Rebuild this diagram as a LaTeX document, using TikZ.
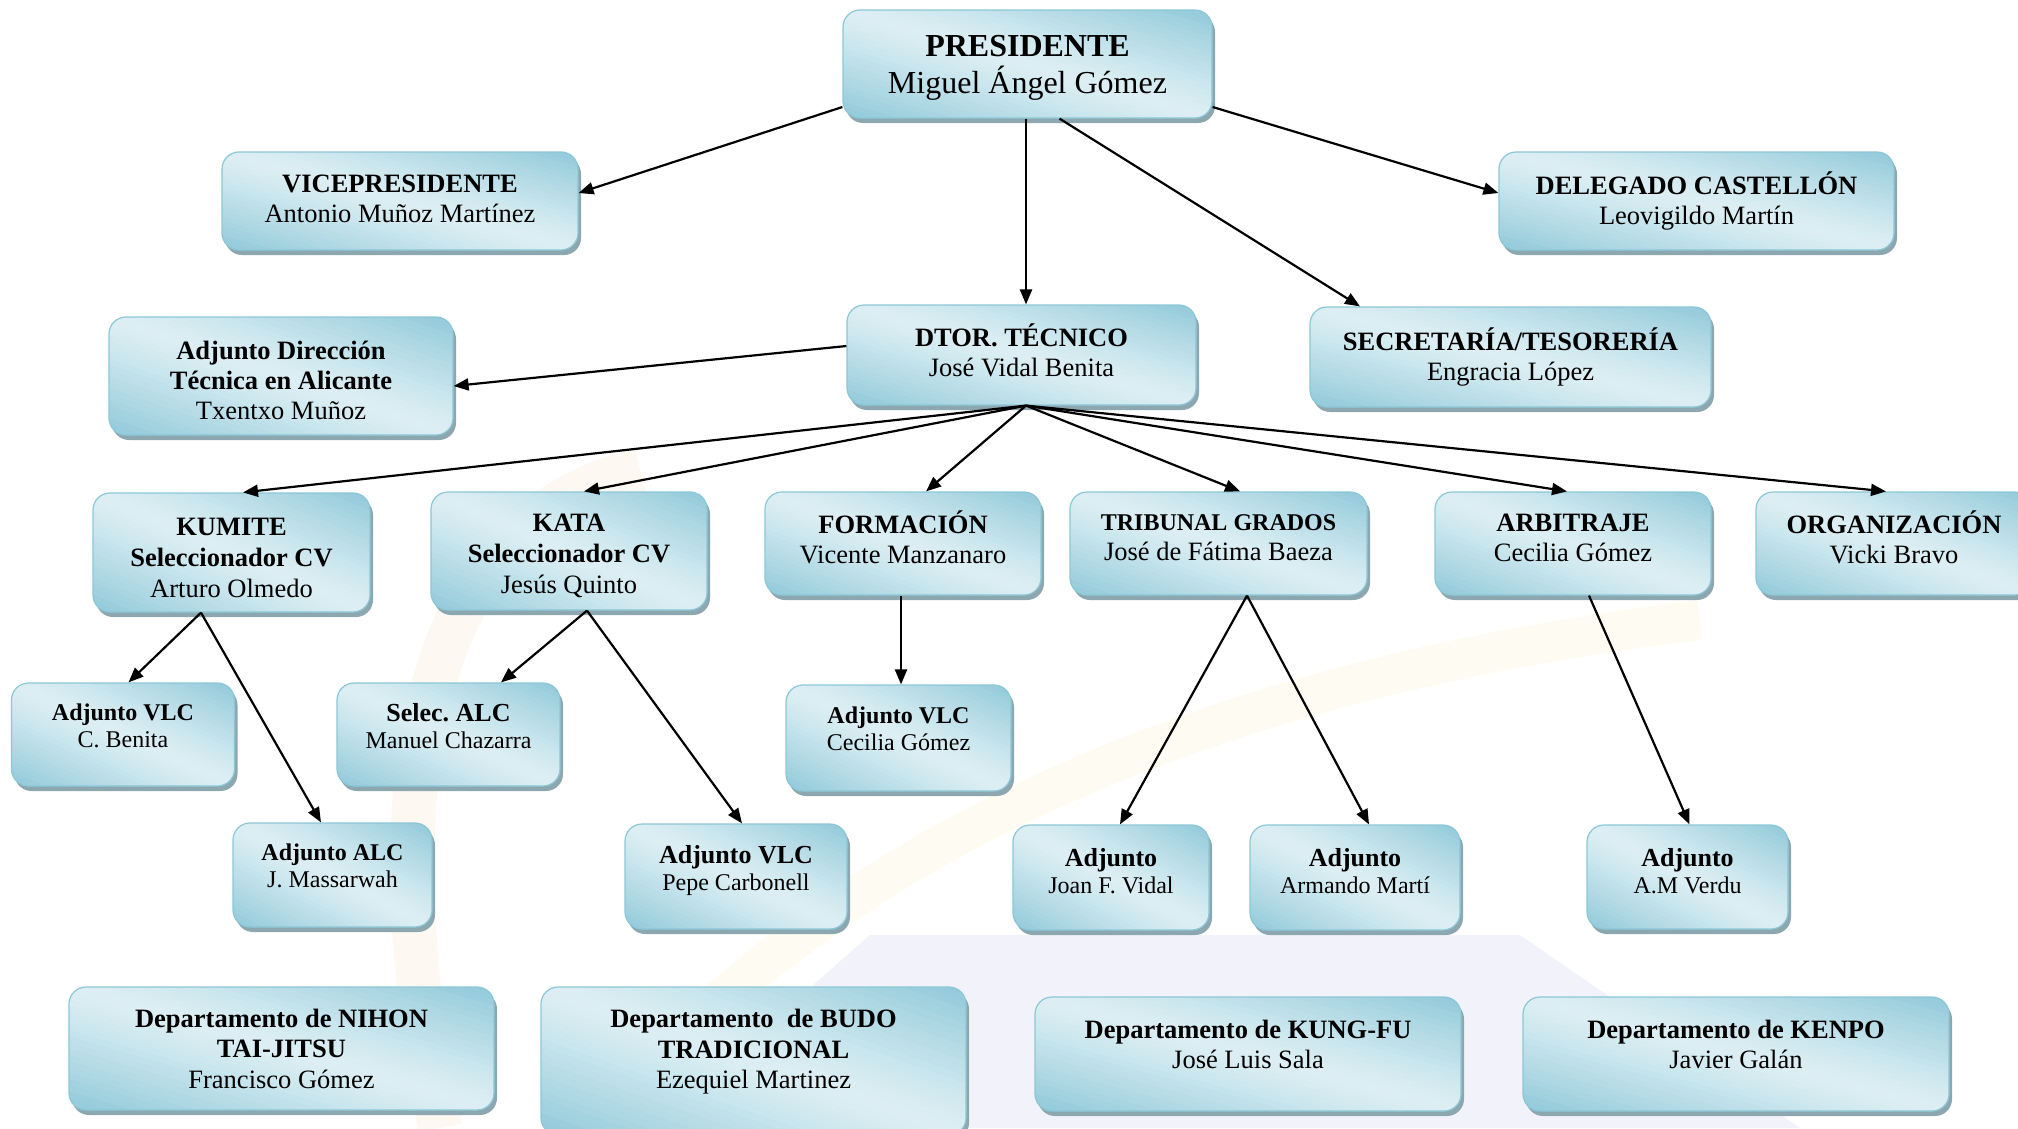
\documentclass[tikz,border=0pt]{standalone}
\usepackage{fontspec}
\setmainfont{Liberation Serif}
\usetikzlibrary{arrows.meta,shadows,calc}
\definecolor{boxlight}{HTML}{DDEFF4}
\definecolor{boxdark}{HTML}{90C9D9}
\definecolor{boxborder}{HTML}{8CC7D6}
\definecolor{boxshadow}{HTML}{8CA7B0}
\definecolor{wmorange}{HTML}{FEF8F3}
\definecolor{wmyellow}{HTML}{FEFCF2}
\definecolor{wmblue}{HTML}{F2F3FA}
\newcommand{\fsz}[2]{\fontsize{#1}{#2}\selectfont}
\newcommand{\tp}[1]{\rule{0pt}{#1pt}}
\newcommand{\bt}[1]{\rule[-#1pt]{0pt}{#1pt}}
\tikzset{
  orgbox/.style={draw=boxborder, line width=1.2pt, rounded corners=17pt,
    drop shadow={shadow xshift=3pt, shadow yshift=-5pt, fill=boxshadow, opacity=1},
    align=center, inner sep=0pt, text=black},
  bx/.style 2 args={minimum width=#1pt, minimum height=#2pt,
    path picture={
      \foreach \k in {0,...,39}{
        \pgfmathsetmacro\sa{-2+\k*0.1}
        \pgfmathsetmacro\sb{\sa+0.13}
        \pgfmathsetmacro\tt{abs(\sa+0.05)/2}
        \pgfmathtruncatemacro\lt{100*(1-\tt^1.2)}
        \fill[boxlight!\lt!boxdark]
          ($(path picture bounding box.center)+({(\sa+2.1)*#1/4},{(\sa-2.1)*#2/4})$) --
          ($(path picture bounding box.center)+({(\sb+2.1)*#1/4},{(\sb-2.1)*#2/4})$) --
          ($(path picture bounding box.center)+({(\sb-2.1)*#1/4},{(\sb+2.1)*#2/4})$) --
          ($(path picture bounding box.center)+({(\sa-2.1)*#1/4},{(\sa+2.1)*#2/4})$) -- cycle;
      }}},
  bigtxt/.style={font=\fsz{32}{37}},
  midtxt/.style={font=\fsz{26.5}{30}},
  smalltxt/.style={font=\fsz{24}{27}},
  conn/.style={line width=2.2pt, -{Triangle[length=15pt,width=12pt]}},
}
\begin{document}
\begin{tikzpicture}[x=1pt,y=1pt]
\useasboundingbox (0,0) rectangle (2018,-1128);
\clip (0,0) rectangle (2018,-1128);
% faint watermark
\fill[wmblue] (870,-935) -- (1520,-935) -- (1800,-1128) -- (650,-1128) -- cycle;
\draw[line width=44pt, wmorange] (640,-470) .. controls (430,-520) and (370,-760) .. (440,-1128);
\draw[line width=40pt, wmyellow] (600,-1128) .. controls (820,-850) and (1200,-680) .. (1700,-620);

% level 0-1
\node[orgbox, bigtxt, bx={369}{108}] (pres) at (1027.5,-64) {\tp{29}\textbf{PRESIDENTE}\\Miguel Ángel Gómez};
\node[orgbox, midtxt, bx={356}{98}] (vice) at (400,-201) {\textbf{VICEPRESIDENTE}\\Antonio Muñoz Martínez\bt{4}};
\node[orgbox, midtxt, bx={395}{98}] (deleg) at (1696.5,-201) {\textbf{DELEGADO CASTELLÓN}\\Leovigildo Martín\bt{4}};
\node[orgbox, midtxt, bx={349}{100}] (dtor) at (1021.5,-355) {\textbf{DTOR. TÉCNICO}\\José Vidal Benita\bt{9}};
\node[orgbox, midtxt, bx={344}{118}] (adjdir) at (281,-376) {\tp{26.5}\textbf{Adjunto Dirección}\\\textbf{Técnica en Alicante}\\Txentxo Muñoz};
\node[orgbox, midtxt, bx={401}{100}] (secre) at (1510.5,-357) {\textbf{SECRETARÍA/TESORERÍA}\\Engracia López\bt{4}};

% level 2
\node[orgbox, font=\fsz{26.5}{31}, bx={277}{119}] (kumite) at (231.5,-552.5) {\tp{27.5}\textbf{KUMITE}\\\textbf{Seleccionador CV}\\Arturo Olmedo};
\node[orgbox, font=\fsz{26.5}{31}, bx={276}{118}] (kata) at (569,-551) {\tp{28}\textbf{KATA}\\\textbf{Seleccionador CV}\\Jesús Quinto};
\node[orgbox, midtxt, bx={276}{103}] (formacion) at (903,-543.5) {\textbf{FORMACIÓN}\\Vicente Manzanaro\bt{12}};
\node[orgbox, midtxt, bx={297}{103}] (tribunal) at (1218.5,-543.5) {{\fsz{24}{29}\bfseries TRIBUNAL GRADOS}\\José de Fátima Baeza\bt{12}};
\node[orgbox, midtxt, bx={276}{103}] (arbitraje) at (1573,-543.5) {\textbf{ARBITRAJE}\\Cecilia Gómez\bt{12}};
\node[orgbox, midtxt, bx={276}{103}] (organiz) at (1894,-543.5) {\textbf{ORGANIZACIÓN}\\Vicki Bravo\bt{12}};

% level 3
\node[orgbox, smalltxt, bx={223}{103}] (adjvlca) at (123,-734.5) {\textbf{Adjunto VLC}\\C. Benita\bt{18}};
\node[orgbox, smalltxt, bx={223}{103}] (selec) at (448.5,-734.5) {{\fsz{26}{27}\bfseries Selec.\ ALC}\\Manuel Chazarra\bt{18}};
\node[orgbox, smalltxt, bx={225}{106}] (adjvlcb) at (898.5,-738) {\textbf{Adjunto VLC}\\Cecilia Gómez\bt{18}};
\node[orgbox, smalltxt, bx={199}{104}] (adjalc) at (332.5,-875) {\textbf{Adjunto ALC}\\J. Massarwah\bt{18}};
\node[orgbox, smalltxt, bx={222}{105}] (adjvlcc) at (736,-876.5) {{\fsz{26}{28}\bfseries Adjunto VLC}\\Pepe Carbonell\bt{18}};
\node[orgbox, smalltxt, bx={196}{105}] (adjjoan) at (1111,-877.5) {{\fsz{26}{28}\bfseries Adjunto}\\Joan F. Vidal\bt{14}};
\node[orgbox, smalltxt, bx={210}{105}] (adjarm) at (1355,-877.5) {{\fsz{26}{28}\bfseries Adjunto}\\Armando Martí\bt{14}};
\node[orgbox, smalltxt, bx={201}{104}] (adjverdu) at (1687.5,-877) {{\fsz{26}{28}\bfseries Adjunto}\\A.M Verdu\bt{12}};

% departments
\node[orgbox, font=\fsz{26.5}{30.5}, bx={425}{123}] (nihon) at (281.5,-1048.5) {\textbf{Departamento de NIHON}\\\textbf{TAI-JITSU}\\Francisco Gómez};
\node[orgbox, font=\fsz{26.5}{30.5}, bx={425}{148}] (budo) at (753.5,-1061) {\textbf{Departamento~ de BUDO}\\\textbf{TRADICIONAL}\\Ezequiel Martinez\bt{24}};
\node[orgbox, midtxt, bx={426}{114}] (kungfu) at (1248,-1054) {\textbf{Departamento de KUNG-FU}\\José Luis Sala\bt{20}};
\node[orgbox, midtxt, bx={426}{114}] (kenpo) at (1736,-1054) {\textbf{Departamento de KENPO}\\Javier Galán\bt{20}};

% connectors
\coordinate (hub) at ([xshift=4.5pt]dtor.south);
\draw[conn] ([yshift=-43pt]pres.west) -- ([yshift=8pt]vice.east);
\draw[conn] ([yshift=-43pt]pres.east) -- ([yshift=8pt]deleg.west);
\draw[conn] ([xshift=-1.5pt]pres.south) -- ([xshift=-1.5pt]pres.south |- dtor.north);
\draw[conn] ([xshift=32pt]pres.south) -- ([xshift=-150.5pt]secre.north);
\draw[conn] ([yshift=9pt]dtor.west) -- ([yshift=-10pt]adjdir.east);
\draw[conn] (hub) -- ([xshift=11.5pt]kumite.north);
\draw[conn] (hub) -- ([xshift=15pt]kata.north);
\draw[conn] (hub) -- ([xshift=23pt]formacion.north);
\draw[conn] (hub) -- ([xshift=21.5pt]tribunal.north);
\draw[conn] (hub) -- ([xshift=-6pt]arbitraje.north);
\draw[conn] (hub) -- ([xshift=-8pt]organiz.north);
\draw[conn] ([xshift=-30.5pt]kumite.south) -- ([xshift=5.5pt]adjvlca.north);
\draw[conn] ([xshift=-30.5pt]kumite.south) -- ([xshift=-11.5pt]adjalc.north);
\draw[conn] ([xshift=18pt]kata.south) -- ([xshift=52.5pt]selec.north);
\draw[conn] ([xshift=18pt]kata.south) -- ([xshift=6pt]adjvlcc.north);
\draw[conn] ([xshift=-2pt]formacion.south) -- ([xshift=-2pt]formacion.south |- adjvlcb.north);
\draw[conn] ([xshift=28.5pt]tribunal.south) -- ([xshift=9pt]adjjoan.north);
\draw[conn] ([xshift=28.5pt]tribunal.south) -- ([xshift=14pt]adjarm.north);
\draw[conn] ([xshift=16pt]arbitraje.south) -- ([xshift=2pt]adjverdu.north);
\end{tikzpicture}
\end{document}
